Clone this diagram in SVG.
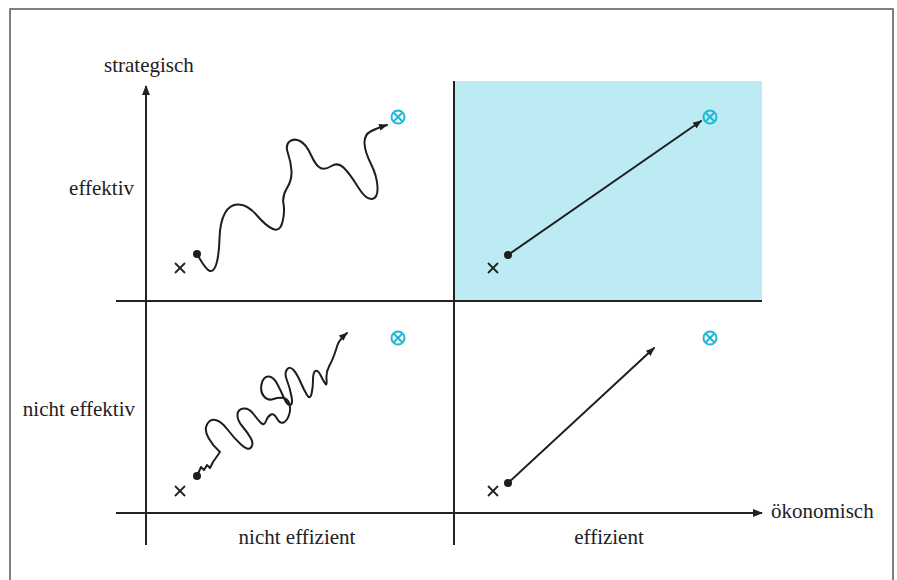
<svg xmlns="http://www.w3.org/2000/svg" width="897" height="580" viewBox="0 0 897 580">
<style>
.lbl{font-family:"Liberation Serif","Times New Roman",serif;font-size:21px;fill:#222}
.ax{stroke:#222;stroke-width:2;fill:none}
.path{stroke:#1e1e1e;stroke-width:2;fill:none;stroke-linecap:round;stroke-linejoin:round}
.x{stroke:#222;stroke-width:1.8}
.goal circle{fill:none;stroke:#1fb7d6;stroke-width:2}
.goal line{stroke:#1fb7d6;stroke-width:2}
</style>
<defs>
<marker id="ah" viewBox="0 0 10 8" refX="9" refY="4" markerWidth="9" markerHeight="7" markerUnits="userSpaceOnUse" orient="auto">
<path d="M0,0 L10,4 L0,8 Z" fill="#1e1e1e"/>
</marker>
<marker id="axh" viewBox="0 0 10 8" refX="9" refY="4" markerWidth="10" markerHeight="8" markerUnits="userSpaceOnUse" orient="auto">
<path d="M0,0 L10,4 L0,8 Z" fill="#222"/>
</marker>
<g id="cross"><line class="x" x1="-5" y1="-5" x2="5" y2="5"/><line class="x" x1="-5" y1="5" x2="5" y2="-5"/></g>
<g id="target" class="goal"><circle r="6.5"/><line x1="-4.2" y1="-4.2" x2="4.2" y2="4.2"/><line x1="-4.2" y1="4.2" x2="4.2" y2="-4.2"/></g>
</defs>
<rect x="10" y="9" width="883" height="600" fill="#fff" stroke="#555" stroke-width="1.5"/>
<rect id="highlight" x="455" y="81" width="307" height="220" fill="#bdebf3"/>
<g id="axes">
<line class="ax" x1="146" y1="545" x2="146" y2="86" marker-end="url(#axh)"/>
<line class="ax" x1="116" y1="513" x2="762" y2="513" marker-end="url(#axh)"/>
<line class="ax" x1="116" y1="301" x2="762" y2="301"/>
<line class="ax" x1="454" y1="81" x2="454" y2="545"/>
</g>
<g id="labels">
<text class="lbl" x="104" y="72">strategisch</text>
<text class="lbl" x="134" y="195" text-anchor="end">effektiv</text>
<text class="lbl" x="135" y="416" text-anchor="end">nicht effektiv</text>
<text class="lbl" x="297" y="544" text-anchor="middle">nicht effizient</text>
<text class="lbl" x="609" y="544" text-anchor="middle">effizient</text>
<text class="lbl" x="771" y="518">ökonomisch</text>
</g>
<g id="q-top-left">
<use href="#cross" x="180" y="268"/>
<circle cx="197" cy="254" r="4" fill="#1e1e1e"/>
<use href="#target" x="398" y="117"/>
</g>
<g id="q-top-right">
<use href="#cross" x="493" y="268"/>
<circle cx="508" cy="255" r="4" fill="#1e1e1e"/>
<use href="#target" x="710" y="117"/>
</g>
<g id="q-bottom-left">
<use href="#cross" x="180" y="491"/>
<circle cx="197" cy="476" r="4" fill="#1e1e1e"/>
<use href="#target" x="398" y="338"/>
</g>
<g id="q-bottom-right">
<use href="#cross" x="493" y="491"/>
<circle cx="508" cy="483" r="4" fill="#1e1e1e"/>
<use href="#target" x="710" y="338"/>
</g>
<g id="connectors">
<path class="path" marker-end="url(#ah)" d="M197,254 Q206,270 210,271 T216.5,263.5 T219.5,238.5 T225,213 T239,204.5 T257,215.5 T273,229 T282.5,222 T283.5,204 T287,188 T291.5,171 T288,153.5 T289.5,141.5 T300,141 T311,155 T320.5,168 T331.5,166 T344,168 T358,187 T372,199 T377.5,187 T371,164 T364.5,143.5 T370.5,131.5 Q377,128 387,125"/>
<path class="path" marker-end="url(#ah)" d="M197,476 L201,467 L204,470 L207,465 L210,468 L213,462 L220,452 Q213,446 208.5,438 T207,424.5 T215.5,420 T227.5,429.5 T241,444.5 T251,447.5 T251,438.5 T242.5,426.5 T237.5,414.5 T243.5,408.5 T253.5,414 T261,423 T266,421 T271,414.5 T277,418.5 T283.5,422.5 T289,415 T289.5,404 T283.5,398 T273.5,399 T264,396.5 T261.5,384.5 T268,376.5 T277,383.5 T284,398 T290,405 T291.5,396.5 T287,380.5 T287,369.5 T293.5,370 T300.5,382 T307,395 T311.5,394 T313,380 T315.5,371 T321,376 T325.5,384 T326.5,379 T329,366.5 T334,355.5 T337.5,345 Q339,340 347,333"/>
<line class="path" x1="508" y1="255" x2="701" y2="121" marker-end="url(#ah)"/>
<line class="path" x1="508" y1="483" x2="654" y2="348" marker-end="url(#ah)"/>
</g>
</svg>
